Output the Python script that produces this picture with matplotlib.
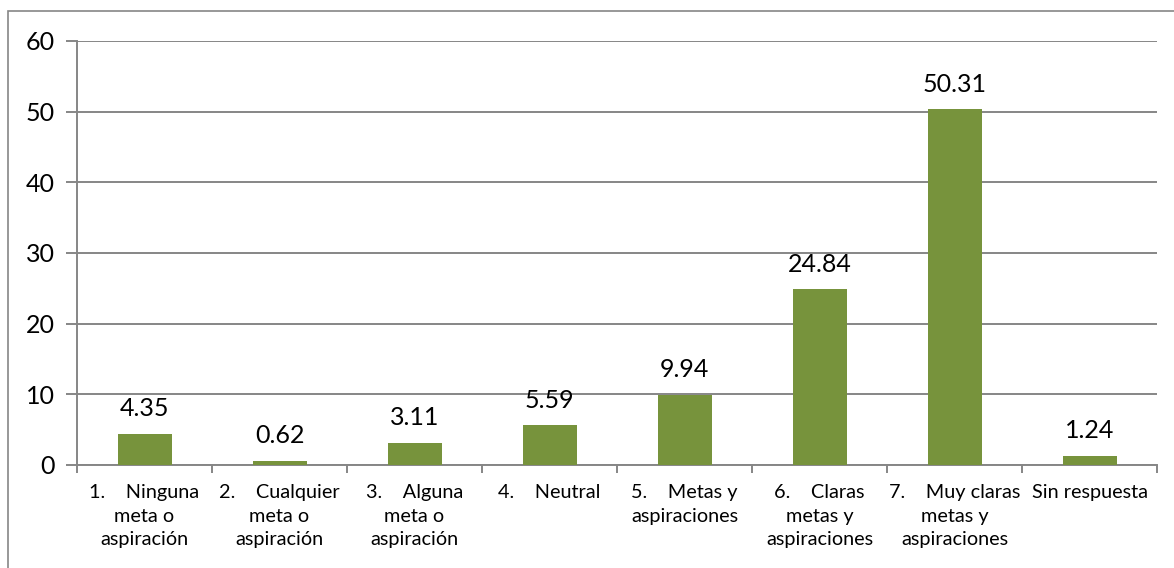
import matplotlib.pyplot as plt
from matplotlib.patches import Rectangle

categories = [
    "1.    Ninguna\nmeta o\naspiración",
    "2.    Cualquier\nmeta o\naspiración",
    "3.    Alguna\nmeta o\naspiración",
    "4.    Neutral",
    "5.    Metas y\naspiraciones",
    "6.    Claras\nmetas y\naspiraciones",
    "7.    Muy claras\nmetas y\naspiraciones",
    "Sin respuesta",
]
values = [4.35, 0.62, 3.11, 5.59, 9.94, 24.84, 50.31, 1.24]
value_labels = ["4.35", "0.62", "3.11", "5.59", "9.94", "24.84", "50.31", "1.24"]
yticks = [0, 10, 20, 30, 40, 50, 60]

plt.rcParams['font.family'] = ['Lato', 'DejaVu Sans']
grid_col = '#868686'

fig = plt.figure(figsize=(11.74, 5.68), dpi=100)
# chart frame (cropped at right/bottom like the reference)
fig.patches.append(Rectangle((8 / 1174, -0.05), 1.2, 1 - 11 / 568 + 0.05,
                             transform=fig.transFigure, fill=False,
                             edgecolor=grid_col, linewidth=1.2))

ax = fig.add_axes([77 / 1174, 1 - 465 / 568, (1157 - 77) / 1174, (465 - 41) / 568])
x = list(range(len(values)))
ax.bar(x, values, width=0.4, color='#77933C', zorder=3)

for xi, v, lab in zip(x, values, value_labels):
    ax.annotate(lab, (xi, v), xytext=(0, 10), textcoords='offset points',
                ha='center', va='bottom', fontsize=18, color='black')

ax.set_xlim(-0.5, len(values) - 0.5)
ax.set_ylim(0, 60)
ax.set_yticks(yticks)
ax.set_yticklabels([str(t) for t in yticks], fontsize=18)
ax.yaxis.grid(True, color=grid_col, linewidth=1.4, zorder=0)

ax.set_xticks(x)
ax.set_xticklabels(categories, fontsize=14.3, linespacing=1.45)
for lab in ax.get_xticklabels():
    lab.set_multialignment('center')
ax.set_xticks([i - 0.5 for i in range(len(values) + 1)], minor=True)
ax.tick_params(axis='x', which='major', length=0, pad=14)
ax.tick_params(axis='x', which='minor', length=6, color=grid_col, width=1.4, direction='out')
ax.tick_params(axis='y', length=8, color=grid_col, width=1.4, pad=8)

for s in ['top', 'right']:
    ax.spines[s].set_visible(False)
for s in ['left', 'bottom']:
    ax.spines[s].set_color(grid_col)
    ax.spines[s].set_linewidth(1.4)

fig.savefig('out.png', dpi=100)
